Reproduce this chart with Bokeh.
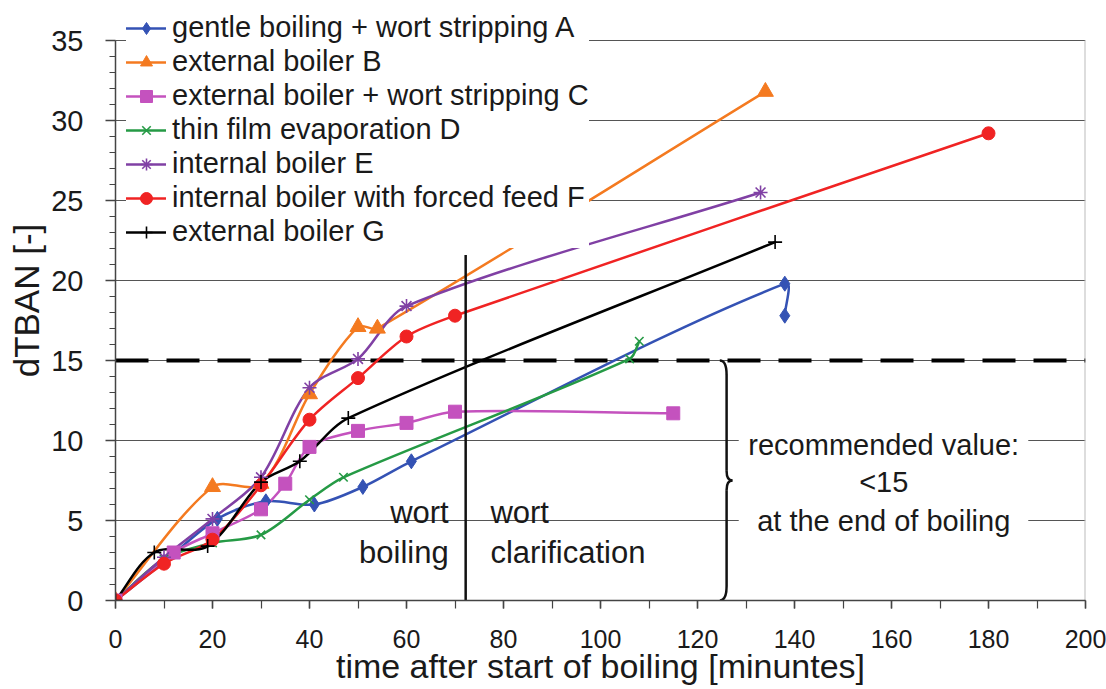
from math import hypot
from bokeh.plotting import figure
from bokeh.models import Range1d, SingleIntervalTicker, Legend, LegendItem, Title
from bokeh.embed import file_html
from bokeh.resources import INLINE
from bokeh.core.properties import value

# ---------------- data ----------------
labels = [
    "gentle boiling + wort stripping A",
    "external boiler B",
    "external boiler + wort stripping C",
    "thin film evaporation D",
    "internal boiler E",
    "internal boiler with forced feed F",
    "external boiler G",
]
a_x = [0, 10, 21, 31, 41, 51, 61, 138, 138]
a_y = [0, 2.4, 5.1, 6.2, 6.0, 7.1, 8.7, 19.8, 17.8]
b_x = [0, 20, 30, 40, 50, 54, 134]
b_y = [0, 7.1, 7.3, 12.9, 17.1, 17.0, 31.8]
c_x = [0, 12, 20, 30, 35, 40, 50, 60, 70, 115]
c_y = [0, 3.0, 4.2, 5.7, 7.3, 9.6, 10.6, 11.1, 11.8, 11.7]
d_x = [0, 10, 20, 30, 40, 47, 106, 108]
d_y = [0, 2.6, 3.6, 4.1, 6.3, 7.7, 15.1, 16.2]
e_x = [0, 10, 20, 30, 40, 50, 60, 133]
e_y = [0, 2.7, 5.1, 7.7, 13.3, 15.1, 18.4, 25.5]
f_x = [0, 10, 20, 30, 40, 50, 60, 70, 180]
f_y = [0, 2.3, 3.8, 7.2, 11.3, 13.9, 16.5, 17.8, 29.2]
g_x = [0, 8, 19, 30, 38, 48, 136]
g_y = [0, 3.0, 3.4, 7.4, 8.7, 11.4, 22.4]

x_min, x_max = 0, 200
y_min, y_max = 0, 35
recommended_limit = 15
end_of_boiling = 72.2
boil_line_top = 21.6
brace_x = 126

# ---------------- styling ----------------
FONT = "Liberation Sans"
TXT = "#1a1a1a"
colors = ["#3452b4", "#f47a20", "#c452be", "#259a45", "#8040a4", "#f02323", "#000000"]
markers = ["diamond", "triangle", "square", "x", "asterisk", "circle", "cross"]
msizes = [15, 16, 13, 12, 14, 13, 14]
SX, SY = 4.85, 16.0  # px per data unit (for smoothing in screen proportions)
Y_HEADROOM = 2.5      # room above the axis top for the legend

p = figure(width=1106, height=689, x_range=Range1d(x_min, x_max),
           y_range=Range1d(y_min, y_max + Y_HEADROOM),
           output_backend="svg", toolbar_location=None,
           min_border_left=115, min_border_right=21, min_border_top=0, min_border_bottom=89)
p.background_fill_color = "white"
p.border_fill_color = "white"
p.outline_line_color = None

p.xgrid.visible = False
p.ygrid.ticker = SingleIntervalTicker(interval=5)
p.ygrid.grid_line_color = "#555555"
p.ygrid.grid_line_width = 1
p.ygrid.bounds = (y_min, y_max)

xa = p.xaxis[0]
xa.ticker = SingleIntervalTicker(interval=20, num_minor_ticks=2)
xa.major_tick_in = 0
xa.major_tick_out = 8
xa.minor_tick_in = 0
xa.minor_tick_out = 8
xa.major_label_text_font = FONT
xa.major_label_text_font_size = "25px"
xa.major_label_text_color = TXT
xa.major_label_standoff = 21
xa.axis_label = "time after start of boiling [minuntes]"
xa.axis_label_text_font = FONT
xa.axis_label_text_font_size = "34px"
xa.axis_label_text_font_style = "normal"
xa.axis_label_text_color = TXT
xa.axis_label_standoff = -4

ya = p.yaxis[0]
ya.bounds = (y_min, y_max)
ya.ticker = SingleIntervalTicker(interval=5, num_minor_ticks=5)
ya.major_tick_in = 0
ya.major_tick_out = 10
ya.minor_tick_in = 0
ya.minor_tick_out = 6
ya.major_label_text_font = FONT
ya.major_label_text_font_size = "29px"
ya.major_label_text_color = TXT
ya.major_label_standoff = 22

for ax in (xa, ya):
    ax.axis_line_color = "#444444"
    ax.axis_line_width = 1.5
    ax.major_tick_line_color = "#444444"
    ax.minor_tick_line_color = "#444444"
    ax.major_tick_line_width = 1.5
    ax.minor_tick_line_width = 1.2

# y-axis title as a left-side title so it can be positioned precisely
ytitle = Title(text="dTBAN [-]", align="center", offset=-16, standoff=5,
               text_font=FONT, text_font_size="35px", text_font_style="normal",
               text_color=TXT)
p.add_layout(ytitle, "left")

# light right-hand border of the plot area
p.segment(x0=[x_max], y0=[y_min], x1=[x_max], y1=[y_max], line_color="#bbbbbb", line_width=2)

# white box behind the recommendation text (interrupts gridlines)
p.quad(left=[128.5], right=[188.2], bottom=[3.4], top=[10.9],
       fill_color="white", line_color=None)

# dashed recommended-value line
p.segment(x0=[x_min], y0=[recommended_limit], x1=[x_max], y1=[recommended_limit],
          line_color="black", line_width=4, line_dash="33 18")


def smooth(xs, ys, k=0.3):
    px = [x * SX for x in xs]
    py = [y * SY for y in ys]
    n = len(px)
    tang = []
    for i in range(n):
        if i == 0:
            dx, dy = px[1] - px[0], py[1] - py[0]
        elif i == n - 1:
            dx, dy = px[-1] - px[-2], py[-1] - py[-2]
        else:
            dx, dy = px[i + 1] - px[i - 1], py[i + 1] - py[i - 1]
        L = hypot(dx, dy) or 1.0
        tang.append((dx / L, dy / L))
    out = dict(x0=[], y0=[], x1=[], y1=[], cx0=[], cy0=[], cx1=[], cy1=[])
    for i in range(n - 1):
        d = hypot(px[i + 1] - px[i], py[i + 1] - py[i]) * k
        out["x0"].append(xs[i]); out["y0"].append(ys[i])
        out["x1"].append(xs[i + 1]); out["y1"].append(ys[i + 1])
        out["cx0"].append((px[i] + tang[i][0] * d) / SX)
        out["cy0"].append((py[i] + tang[i][1] * d) / SY)
        out["cx1"].append((px[i + 1] - tang[i + 1][0] * d) / SX)
        out["cy1"].append((py[i + 1] - tang[i + 1][1] * d) / SY)
    return out


series = [(a_x, a_y), (b_x, b_y), (c_x, c_y), (d_x, d_y), (e_x, e_y), (f_x, f_y), (g_x, g_y)]
line_rs = []
for (xs, ys), col in zip(series, colors):
    s = smooth(xs, ys)
    r = p.bezier(x0=s["x0"], y0=s["y0"], x1=s["x1"], y1=s["y1"],
                 cx0=s["cx0"], cy0=s["cy0"], cx1=s["cx1"], cy1=s["cy1"],
                 line_color=col, line_width=2.5, line_cap="round")
    line_rs.append(r)

mark_rs = []
for (xs, ys), col, m, ms in zip(series, colors, markers, msizes):
    if m in ("x", "asterisk", "cross"):
        r = p.scatter(xs, ys, marker=m, size=ms, line_color=col, line_width=1.6, fill_color=None)
    else:
        r = p.scatter(xs, ys, marker=m, size=ms, fill_color=col, line_color=col, line_width=1)
    mark_rs.append(r)

# end of boiling line
p.segment(x0=[end_of_boiling], y0=[y_min], x1=[end_of_boiling], y1=[boil_line_top],
          line_color="#111111", line_width=2.5)

# curly brace spanning 0 .. recommended limit
bt, bb, bm = recommended_limit, y_min, recommended_limit / 2
hw, hh, tw, th = 1.4, 0.9, 1.2, 0.6
p.quadratic(x0=[brace_x - hw, brace_x, brace_x + tw, brace_x],
            y0=[bt, bm + th, bm, bb + hh],
            x1=[brace_x, brace_x + tw, brace_x, brace_x - hw],
            y1=[bt - hh, bm, bm - th, bb],
            cx=[brace_x, brace_x, brace_x, brace_x],
            cy=[bt, bm, bm, bb],
            line_color="#111111", line_width=2.5)
p.segment(x0=[brace_x, brace_x], y0=[bt - hh, bm - th], x1=[brace_x, brace_x], y1=[bm + th, bb + hh],
          line_color="#111111", line_width=2.5)

# texts
p.text(x=[68.7, 68.7], y=[5.5, 3.0], text=["wort", "boiling"],
       text_font=value(FONT), text_font_size="31px", text_color=TXT,
       text_align="right", text_baseline="alphabetic")
p.text(x=[77.3, 77.3], y=[5.5, 3.0], text=["wort", "clarification"],
       text_font=value(FONT), text_font_size="31px", text_color=TXT,
       text_align="left", text_baseline="alphabetic")
p.text(x=[158.4, 158.4, 158.4], y=[9.7, 7.4, 5.0],
       text=["recommended value:", "<15", "at the end of boiling"],
       text_font=value(FONT), text_font_size="29px", text_color=TXT,
       text_align="center", text_baseline="middle")

legend = Legend(items=[LegendItem(label=lab, renderers=[lr, mr])
                       for lab, lr, mr in zip(labels, line_rs, mark_rs)],
                location=(11, 352))
legend.label_text_font = FONT
legend.label_text_font_size = "29px"
legend.label_text_color = TXT
legend.glyph_width = 40
legend.glyph_height = 30
legend.label_height = 30
legend.label_standoff = 6
legend.spacing = 1
legend.padding = 4
legend.margin = 0
legend.border_line_color = None
legend.background_fill_color = "white"
legend.background_fill_alpha = 1.0
p.add_layout(legend, "center")

open("out.html", "w").write(file_html(p, INLINE))
